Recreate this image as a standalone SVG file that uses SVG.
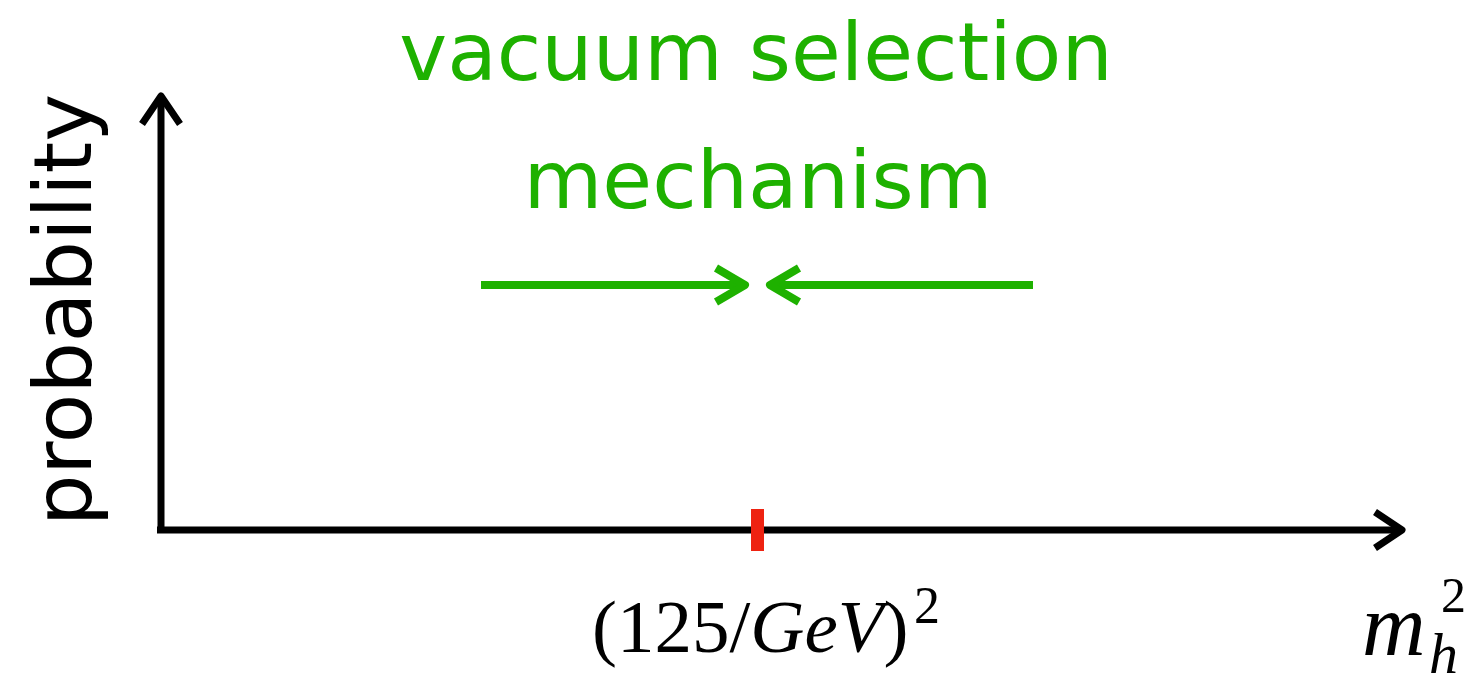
<svg xmlns="http://www.w3.org/2000/svg" width="1476" height="687" viewBox="0 0 1476 687">
<style>
.axis{stroke:#000;stroke-width:7;fill:none;stroke-linecap:butt}
.head{stroke:#000;stroke-width:7;fill:none;stroke-linejoin:round}
.garrow{stroke:#1EB100;stroke-width:8;fill:none}
.ghead{stroke:#1EB100;stroke-width:8;fill:none;stroke-linejoin:round}
.green{fill:#1EB100;font-family:"DejaVu Sans",sans-serif;font-size:81px;text-anchor:middle}
.sans{fill:#000;font-family:"DejaVu Sans",sans-serif;font-size:81px}
.serif{fill:#000;font-family:"Liberation Serif","Times New Roman",serif}
</style>
<rect width="1476" height="687" fill="#fff"/>
<g id="connectors">
  <g id="y-axis">
    <line class="axis" x1="161" y1="533" x2="161" y2="97"/>
    <polyline class="head" points="142,124 161,96 180,124"/>
  </g>
  <g id="x-axis">
    <line class="axis" x1="157" y1="530" x2="1402" y2="530"/>
    <polyline class="head" points="1375,512 1402,530 1375,548"/>
  </g>
  <g id="arrow-right">
    <line class="garrow" x1="481" y1="285" x2="744" y2="285"/>
    <polyline class="ghead" points="716,268 745,285 716,302"/>
  </g>
  <g id="arrow-left">
    <line class="garrow" x1="1033" y1="285" x2="771" y2="285"/>
    <polyline class="ghead" points="799,268 770,285 799,302"/>
  </g>
</g>
<g id="tick">
  <rect x="751" y="509" width="13" height="42" fill="#EE2211"/>
</g>
<g id="title">
  <text class="green" x="756" y="80">vacuum selection</text>
  <text class="green" x="758" y="208">mechanism</text>
</g>
<g id="ylabel">
  <text class="sans" text-anchor="middle" transform="translate(91,310) rotate(-90)">probability</text>
</g>
<g id="tick-label">
  <text class="serif" x="592" y="652" font-size="75">(125/<tspan font-style="italic">GeV</tspan>)</text>
  <text class="serif" x="914" y="623" font-size="52">2</text>
</g>
<g id="xlabel">
  <text class="serif" x="1362" y="655" font-size="88" font-style="italic">m</text>
  <text class="serif" x="1441" y="612" font-size="50">2</text>
  <text class="serif" x="1429" y="673" font-size="58" font-style="italic">h</text>
</g>
</svg>
